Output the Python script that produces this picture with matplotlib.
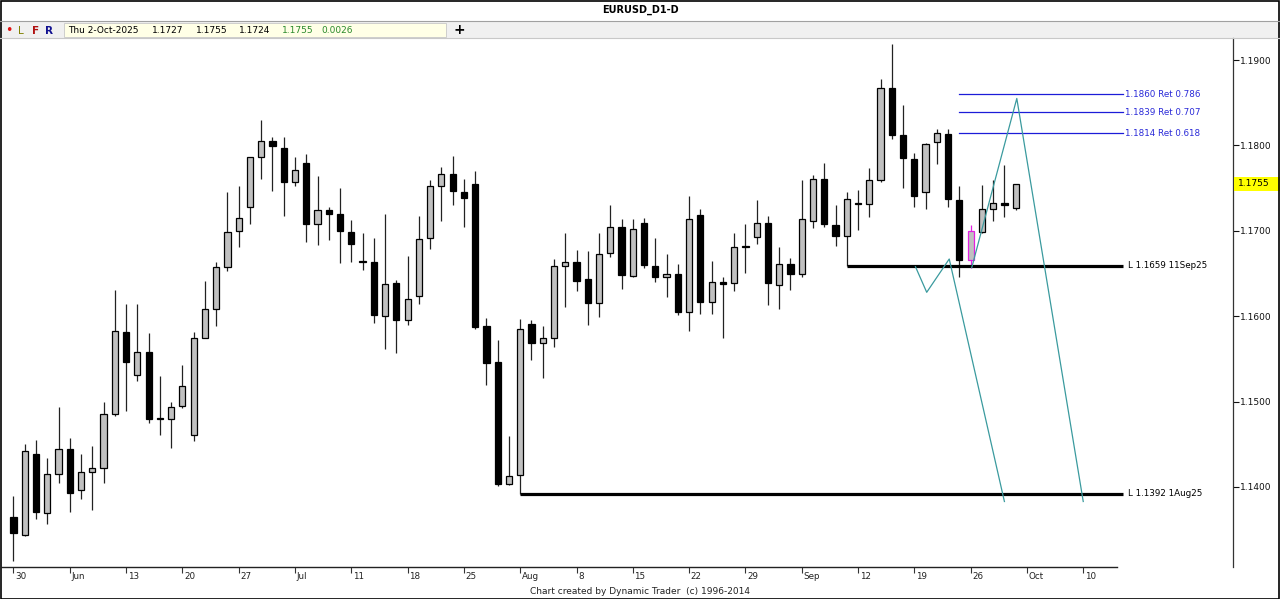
import matplotlib
matplotlib.use("Agg")
import matplotlib.pyplot as plt
import matplotlib.transforms as mtransforms
from matplotlib.patches import Rectangle
from matplotlib.lines import Line2D

plt.rcParams['font.family'] = ['DejaVu Sans']

# ---------------- data ----------------
opens = [1.1365, 1.1344, 1.1439, 1.1370, 1.1415, 1.1444, 1.1396, 1.1418, 1.1422, 1.1486,
         1.1581, 1.1531, 1.1558, 1.1481, 1.1480, 1.1495, 1.1461, 1.1575, 1.1609, 1.1658,
         1.1700, 1.1728, 1.1787, 1.1805, 1.1797, 1.1757, 1.1779, 1.1708, 1.1724, 1.1720,
         1.1699, 1.1665, 1.1663, 1.1600, 1.1639, 1.1595, 1.1624, 1.1691, 1.1753, 1.1767,
         1.1746, 1.1755, 1.1588, 1.1546, 1.1404, 1.1414, 1.1591, 1.1569, 1.1575, 1.1659,
         1.1664, 1.1643, 1.1616, 1.1674, 1.1705, 1.1647, 1.1709, 1.1659, 1.1646, 1.1650,
         1.1605, 1.1719, 1.1617, 1.1640, 1.1639, 1.1682, 1.1693, 1.1709, 1.1637, 1.1661,
         1.1649, 1.1712, 1.1761, 1.1707, 1.1694, 1.1733, 1.1731, 1.1760, 1.1867, 1.1812,
         1.1784, 1.1745, 1.1804, 1.1813, 1.1736, 1.1666, 1.1699, 1.1726, 1.1732, 1.1727]
highs = [1.1389, 1.1450, 1.1455, 1.1434, 1.1494, 1.1457, 1.1439, 1.1448, 1.1499, 1.1631,
         1.1614, 1.1614, 1.1580, 1.1530, 1.1500, 1.1543, 1.1581, 1.1641, 1.1664, 1.1745,
         1.1753, 1.1787, 1.1830, 1.1810, 1.1810, 1.1787, 1.1790, 1.1764, 1.1728, 1.1750,
         1.1713, 1.1697, 1.1692, 1.1720, 1.1642, 1.1670, 1.1717, 1.1759, 1.1775, 1.1788,
         1.1761, 1.1770, 1.1598, 1.1572, 1.1460, 1.1597, 1.1596, 1.1588, 1.1667, 1.1698,
         1.1678, 1.1676, 1.1697, 1.1730, 1.1714, 1.1714, 1.1715, 1.1692, 1.1673, 1.1661,
         1.1741, 1.1725, 1.1665, 1.1646, 1.1697, 1.1708, 1.1736, 1.1717, 1.1681, 1.1668,
         1.1759, 1.1765, 1.1779, 1.1730, 1.1746, 1.1748, 1.1773, 1.1878, 1.1919, 1.1847,
         1.1791, 1.1803, 1.1819, 1.1819, 1.1753, 1.1707, 1.1754, 1.1760, 1.1777, 1.1755]
lows = [1.1313, 1.1343, 1.1363, 1.1357, 1.1405, 1.1371, 1.1386, 1.1373, 1.1405, 1.1483,
        1.1489, 1.1524, 1.1475, 1.1461, 1.1446, 1.1492, 1.1454, 1.1574, 1.1589, 1.1653,
        1.1681, 1.1708, 1.1761, 1.1747, 1.1717, 1.1752, 1.1687, 1.1683, 1.1689, 1.1662,
        1.1664, 1.1654, 1.1592, 1.1562, 1.1557, 1.1590, 1.1614, 1.1679, 1.1711, 1.1730,
        1.1704, 1.1585, 1.1519, 1.1401, 1.1402, 1.1392, 1.1549, 1.1528, 1.1564, 1.1611,
        1.1629, 1.1590, 1.1599, 1.1669, 1.1632, 1.1646, 1.1656, 1.1640, 1.1622, 1.1601,
        1.1583, 1.1603, 1.1602, 1.1575, 1.1630, 1.1651, 1.1685, 1.1613, 1.1608, 1.1631,
        1.1646, 1.1703, 1.1704, 1.1682, 1.1659, 1.1701, 1.1716, 1.1757, 1.1807, 1.1750,
        1.1728, 1.1726, 1.1778, 1.1728, 1.1646, 1.1657, 1.1698, 1.1712, 1.1716, 1.1724]
closes = [1.1346, 1.1442, 1.1371, 1.1415, 1.1444, 1.1393, 1.1418, 1.1422, 1.1486, 1.1583,
          1.1546, 1.1558, 1.1480, 1.1480, 1.1494, 1.1518, 1.1574, 1.1608, 1.1658, 1.1699,
          1.1715, 1.1786, 1.1805, 1.1799, 1.1757, 1.1771, 1.1708, 1.1724, 1.1720, 1.1700,
          1.1685, 1.1664, 1.1601, 1.1638, 1.1595, 1.1620, 1.1690, 1.1752, 1.1767, 1.1747,
          1.1739, 1.1587, 1.1545, 1.1404, 1.1413, 1.1585, 1.1569, 1.1574, 1.1659, 1.1664,
          1.1641, 1.1616, 1.1673, 1.1705, 1.1648, 1.1702, 1.1660, 1.1646, 1.1650, 1.1605,
          1.1714, 1.1617, 1.1640, 1.1638, 1.1681, 1.1681, 1.1709, 1.1639, 1.1661, 1.1650,
          1.1714, 1.1761, 1.1708, 1.1694, 1.1737, 1.1731, 1.1760, 1.1867, 1.1812, 1.1785,
          1.1741, 1.1802, 1.1814, 1.1737, 1.1666, 1.1700, 1.1725, 1.1733, 1.1730, 1.1755]

tick_pos = [0, 5, 10, 15, 20, 25, 30, 35, 40, 45, 50, 55, 60, 65, 70, 75, 80, 85, 90, 95]
tick_labels = ['30', 'Jun', '13', '20', '27', 'Jul', '11', '18', '25', 'Aug',
               '8', '15', '22', '29', 'Sep', '12', '19', '26', 'Oct', '10']
price_ticks = [1.14, 1.15, 1.16, 1.17, 1.18, 1.19]

support_idx = [45, 74]
support_price = [1.1392, 1.1659]
support_text = ['L 1.1392 1Aug25', 'L 1.1659 11Sep25']

fib_start = 84
fib_price = [1.1860, 1.1839, 1.1814]
fib_text = ['1.1860 Ret 0.786', '1.1839 Ret 0.707', '1.1814 Ret 0.618']

proj1_x = [80.1, 81.1, 83.1, 88.0]
proj1_y = [1.1658, 1.1628, 1.1667, 1.1383]
proj2_x = [85.1, 89.1, 95.0]
proj2_y = [1.1657, 1.1855, 1.1383]

highlight_idx = 85
last_price = 1.1755

# ---------------- figure ----------------
W, H = 1280, 599
fig = plt.figure(figsize=(W / 100, H / 100), dpi=100)
fig.patch.set_facecolor('white')

def fx(x):
    return x / W

def fy(y):
    return 1 - y / H

ax_left, ax_right, ax_top, ax_bot = 2, 1233, 38, 567
ax = fig.add_axes([fx(ax_left), fy(ax_bot), (ax_right - ax_left) / W, (ax_bot - ax_top) / H])
ax.set_facecolor('white')

xmin, xmax = -1.02, 108.3
ymin, ymax = 1.13063, 1.19258
ax.set_xlim(xmin, xmax)
ax.set_ylim(ymin, ymax)

# candles
body_w = 0.55
for i in range(len(opens)):
    o, h, l, c = opens[i], highs[i], lows[i], closes[i]
    up = c >= o
    edge = '#e020e0' if i == highlight_idx else 'black'
    wick_col = '#e020e0' if i == highlight_idx else '#222222'
    ax.vlines(i, l, h, color=wick_col, lw=0.9, zorder=2)
    bottom = min(o, c)
    height = max(abs(c - o), 0.00006)
    ax.bar(i, height, bottom=bottom, width=body_w,
           color='#c0c0c0' if up else 'black', edgecolor=edge,
           linewidth=0.9, zorder=3)

# support lines
line_end = 98.5
for xi, p, t in zip(support_idx, support_price, support_text):
    ax.plot([xi, line_end], [p, p], color='black', lw=2.3, solid_capstyle='butt', zorder=4)
    ax.text(line_end + 0.45, p, t, fontsize=6.3, color='black', va='center', ha='left')

# fib lines
for p, t in zip(fib_price, fib_text):
    ax.plot([fib_start, line_end], [p, p], color='#1c1cd8', lw=0.9, zorder=4)
    ax.text(line_end + 0.25, p, t, fontsize=6.3, color='#2a2ad8', va='center', ha='left')

# projections
ax.plot(proj1_x, proj1_y, color='#3a9a9e', lw=0.9, zorder=5)
ax.plot(proj2_x, proj2_y, color='#3a9a9e', lw=0.9, zorder=5)

# axes styling
for s in ['top', 'left', 'bottom']:
    ax.spines[s].set_visible(False)
ax.spines['right'].set_color('#333333')
ax.spines['right'].set_linewidth(0.9)
ax.yaxis.tick_right()
ax.set_yticks(price_ticks)
ax.set_yticklabels([f'{p:.4f}' for p in price_ticks])
ax.tick_params(axis='y', direction='out', length=4, width=0.8, pad=1,
               labelsize=6.5, colors='#111111')
ax.set_xticks(tick_pos)
ax.set_xticklabels([''] * len(tick_pos))
ax.tick_params(axis='x', direction='out', length=4, width=0.8, colors='#333333')

# bottom axis line
xend_frac = (98.0 - xmin) / (xmax - xmin)
ax.plot([0, xend_frac], [0, 0], transform=ax.transAxes, color='#222222', lw=1.0, clip_on=False)
trans_x = mtransforms.blended_transform_factory(ax.transData, ax.transAxes)
for pos, lab in zip(tick_pos, tick_labels):
    ax.text(pos + 0.15, -0.010, lab, transform=trans_x, fontsize=6.3, va='top', ha='left',
            color='#222222')

# current price box
trans_y = mtransforms.blended_transform_factory(ax.transAxes, ax.transData)
box_h = 14 / 8540
ax.add_patch(Rectangle((1.0008, last_price - box_h / 2), 46 / (ax_right - ax_left), box_h,
                       transform=trans_y, facecolor='#ffff00', edgecolor='none',
                       clip_on=False, zorder=6))
ax.text(1.004, last_price, f'{last_price:.4f}', transform=trans_y, fontsize=6.5,
        va='center', ha='left', color='black', zorder=7)

# ---------------- header / frame ----------------
fig.add_artist(Rectangle((0, fy(38)), 1, (38 - 21) / H, transform=fig.transFigure,
                         facecolor='#f0f0f0', edgecolor='none', zorder=0))
fig.add_artist(Line2D([0, 1], [fy(21), fy(21)], transform=fig.transFigure, color='#a0a0a0', lw=0.8))
fig.add_artist(Line2D([0, 1], [fy(38), fy(38)], transform=fig.transFigure, color='#c8c8c8', lw=0.8))
fig.text(0.5, fy(10), 'EURUSD_D1-D', fontsize=7, fontweight='bold', ha='center', va='center')

fig.text(fx(5), fy(30.5), '\u2022', fontsize=9, color='#e01010', ha='left', va='center')
fig.text(fx(18), fy(30.5), 'L', fontsize=7.5, color='#808000', ha='left', va='center')
fig.text(fx(32), fy(30.5), 'F', fontsize=7.5, color='#b01010', fontweight='bold', ha='left', va='center')
fig.text(fx(45), fy(30.5), 'R', fontsize=7.5, color='#101090', fontweight='bold', ha='left', va='center')
fig.add_artist(Rectangle((fx(64), fy(37)), (446 - 64) / W, 14 / H, transform=fig.transFigure,
                         facecolor='#ffffe6', edgecolor='#c8c8c8', lw=0.6))
hdr_items = [(68, 'Thu 2-Oct-2025', 'black'), (152, '1.1727', 'black'), (196, '1.1755', 'black'),
             (239, '1.1724', 'black'), (282, '1.1755', '#2a8a2a'), (321, '0.0026', '#2a8a2a')]
for x, t, c in hdr_items:
    fig.text(fx(x), fy(30.5), t, fontsize=6.5, color=c, ha='left', va='center')
fig.text(fx(459), fy(30.5), '+', fontsize=10, fontweight='bold', ha='center', va='center')

fig.text(0.5, fy(591), 'Chart created by Dynamic Trader  (c) 1996-2014', fontsize=6.5,
         ha='center', va='center', color='#222222')

fig.add_artist(Rectangle((0.0004, 0.0008), 0.9988, 0.998, transform=fig.transFigure,
                         facecolor='none', edgecolor='black', lw=1.2))

fig.savefig('out.png', dpi=100, facecolor='white')
